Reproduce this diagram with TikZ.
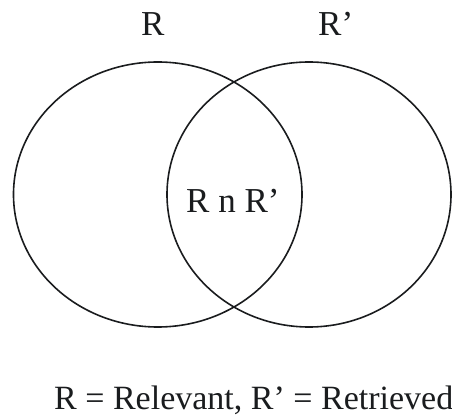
\documentclass[tikz,border=0pt]{standalone}
\usepackage{fontspec}
\setmainfont{Liberation Serif}
\usetikzlibrary{positioning,shapes.geometric}
\definecolor{vnink}{HTML}{1A1C1E}
\tikzset{
  vnset/.style={draw=vnink, ellipse, line width=1.6pt, inner sep=0pt},
  vnlabel/.style={font=\fontsize{35}{40}\selectfont, text=vnink, inner sep=0pt,
                  anchor=base west},
}

\begin{document}
\begin{tikzpicture}[x=1pt,y=-1pt]
  \useasboundingbox (0,0) rectangle (452,419);
  % the two sets
  \node[vnset, minimum width=288.5pt, minimum height=265pt] (relevant) at (157.75,194.5) {};
  \node[vnset, minimum width=284pt, minimum height=265pt] (retrieved) at (309,194.5) {};
  % labels
  \node[vnlabel] (relname) at (141,36) {R};
  \node[vnlabel] (retname) at (318,36) {R'};
  \node[vnlabel] (both) at (186,213) {R n R'};
  \node[vnlabel, font=\fontsize{34}{40}\selectfont] (legend) at (54,409)
    {R = Relevant, R' = Retrieved};
\end{tikzpicture}
\end{document}
